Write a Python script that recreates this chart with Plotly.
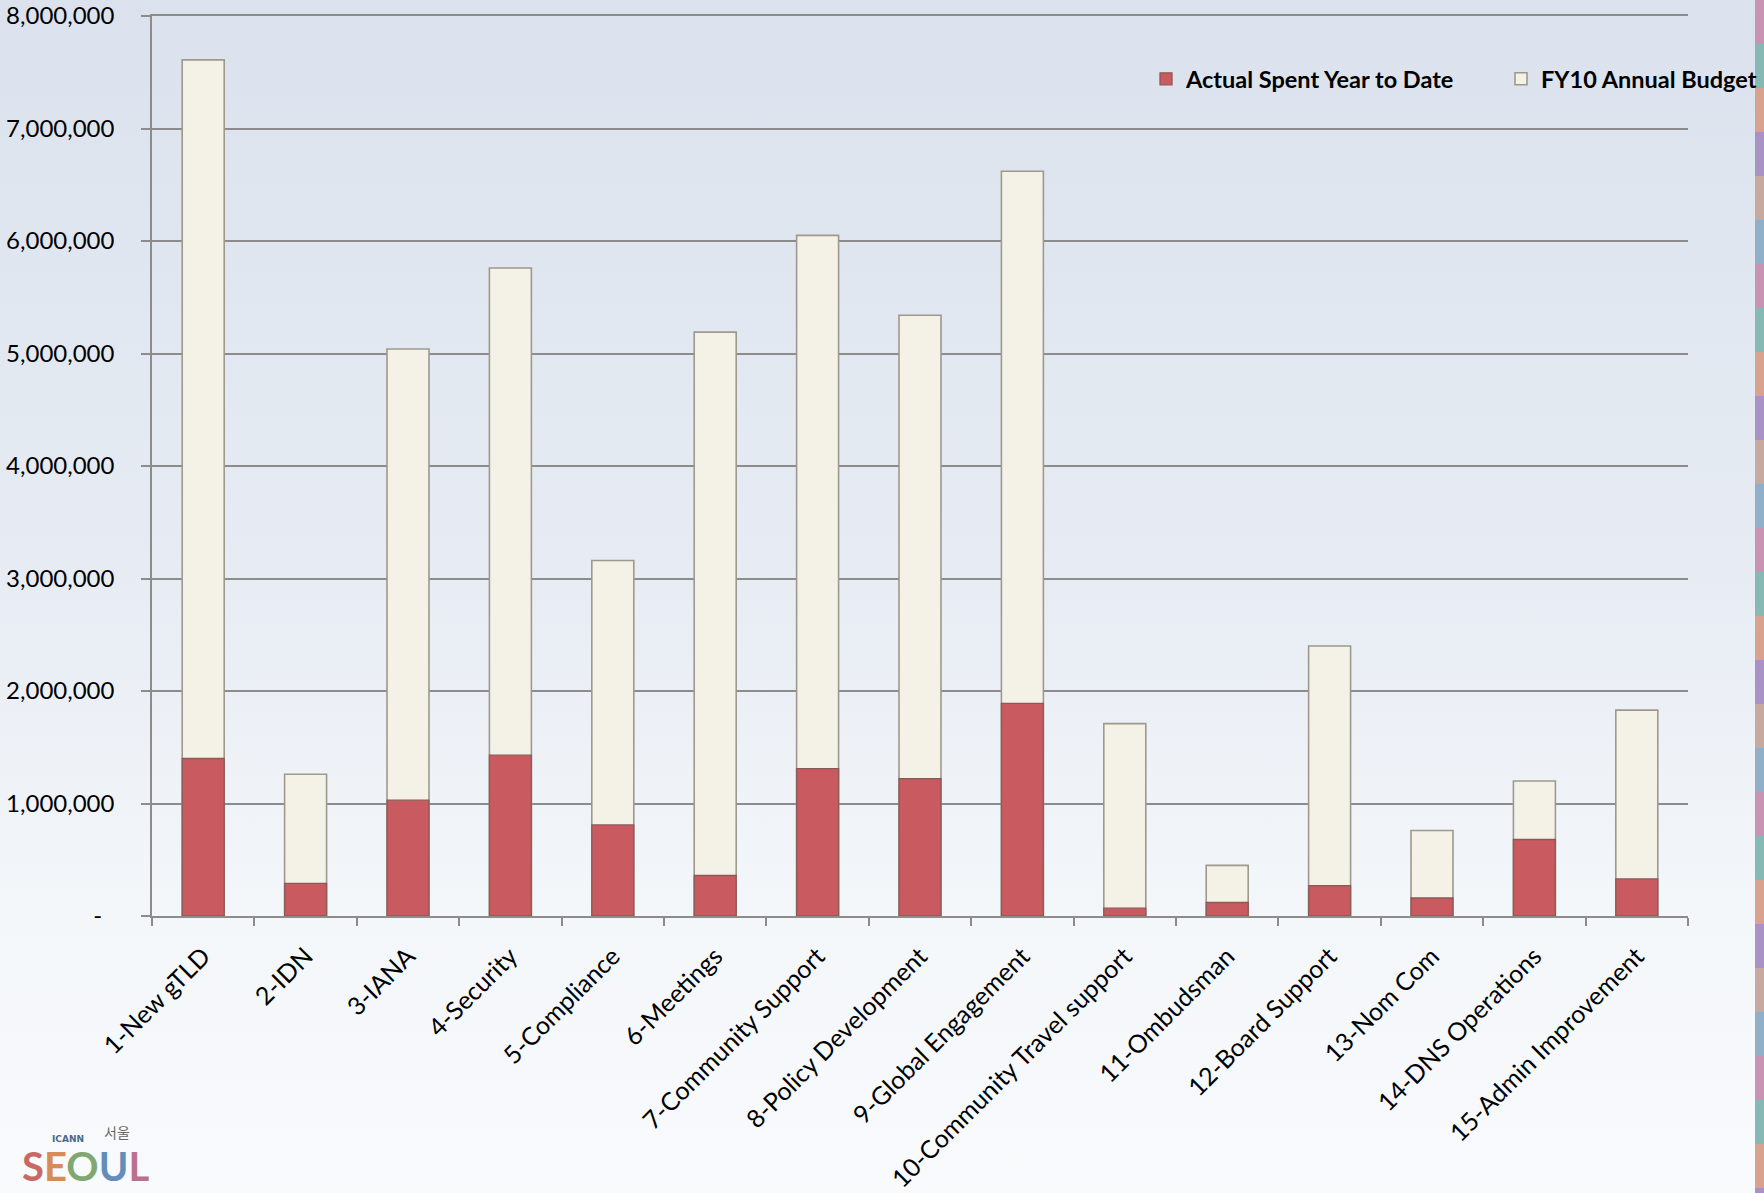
import base64
import plotly.graph_objects as go

categories = [
    "1-New gTLD", "2-IDN", "3-IANA", "4-Security", "5-Compliance", "6-Meetings",
    "7-Community Support", "8-Policy Development", "9-Global Engagement",
    "10-Community Travel support", "11-Ombudsman", "12-Board Support",
    "13-Nom Com", "14-DNS Operations", "15-Admin Improvement",
]
budget = [7610000, 1260000, 5040000, 5760000, 3160000, 5190000, 6050000, 5340000,
          6620000, 1710000, 450000, 2400000, 760000, 1200000, 1830000]
actual = [1400000, 290000, 1030000, 1430000, 810000, 360000, 1310000, 1220000,
          1890000, 70000, 120000, 270000, 160000, 680000, 330000]
y_tickvals = [0, 1000000, 2000000, 3000000, 4000000, 5000000, 6000000, 7000000, 8000000]
y_ticktext = ["-\u00a0\u00a0", "1,000,000", "2,000,000", "3,000,000", "4,000,000",
              "5,000,000", "6,000,000", "7,000,000", "8,000,000"]

W, H = 1764, 1193
ML, MR, MT, MB = 152, 76, 16, 277
PW, PH = W - ML - MR, H - MT - MB

fig = go.Figure()
fig.add_trace(go.Bar(
    x=categories, y=budget, name="FY10 Annual Budget", width=0.41,
    marker=dict(color="#f4f1e6", line=dict(color="#9d998f", width=1.6)),
    legendrank=2,
))
fig.add_trace(go.Bar(
    x=categories, y=actual, name="Actual Spent Year to Date", width=0.41,
    marker=dict(color="#c95a5f", line=dict(color="#8a5a58", width=1.3)),
    legendrank=1,
))

grad = ('<svg xmlns="http://www.w3.org/2000/svg" width="10" height="100" preserveAspectRatio="none">'
        '<defs><linearGradient id="g" x1="0" y1="0" x2="0" y2="1">'
        '<stop offset="0" stop-color="#dbe2ed"/><stop offset="0.45" stop-color="#e6ebf3"/>'
        '<stop offset="0.78" stop-color="#f4f7fa"/><stop offset="1" stop-color="#f8fafc"/>'
        '</linearGradient></defs><rect width="10" height="100" fill="url(#g)"/></svg>')
src = "data:image/svg+xml;base64," + base64.b64encode(grad.encode()).decode()


def px2x(px):
    return (px - ML) / PW


def px2y(py):
    return (H - MB - py) / PH


images = [dict(source=src, xref="paper", yref="paper", x=px2x(0), y=px2y(0),
               sizex=W / PW, sizey=H / PH, sizing="stretch", layer="below",
               xanchor="left", yanchor="top")]

# decorative colourful strip on right edge
strip_cols = ["#c993b4", "#86b9b3", "#d8a28e", "#a892c6", "#c7a9a0", "#8fb0c8"]
shapes = []
step = 44
i = 0
yy = 0
while yy < H:
    shapes.append(dict(type="rect", xref="paper", yref="paper", layer="below",
                       x0=px2x(1755), x1=px2x(1764), y0=px2y(yy), y1=px2y(min(yy + step, H)),
                       fillcolor=strip_cols[i % len(strip_cols)], line=dict(width=0)))
    i += 1
    yy += step

annotations = [
    dict(xref="paper", yref="paper", x=px2x(50), y=px2y(1146), text="<b>ICANN</b>",
         showarrow=False, font=dict(family="DejaVu Sans", size=9, color="#4a6a8a")),
    dict(xref="paper", yref="paper", x=px2x(102), y=px2y(1144), text="서울",
         showarrow=False, font=dict(family="Noto Sans CJK KR", size=14, color="#666")),
    dict(xref="paper", yref="paper", x=px2x(20), y=px2y(1192), xanchor="left", yanchor="bottom",
         text=("<b><span style='color:#c0504d'>S</span><span style='color:#d07a3a'>E</span>"
               "<span style='color:#6a9a5a'>O</span><span style='color:#4a7ab0'>U</span>"
               "<span style='color:#b05a7a'>L</span></b>"),
         showarrow=False, font=dict(family="Lato", size=40), opacity=0.85),
]

fig.update_layout(
    width=W, height=H,
    margin=dict(l=ML, r=MR, t=MT, b=MB, autoexpand=False),
    barmode="overlay",
    paper_bgcolor="#f3f6fa",
    plot_bgcolor="rgba(0,0,0,0)",
    images=images, shapes=shapes, annotations=annotations,
    font=dict(family="Lato", size=24, color="#000"),
    showlegend=True,
    legend=dict(orientation="h", x=px2x(1146), xanchor="left", y=px2y(79), yanchor="middle",
                bgcolor="rgba(0,0,0,0)", font=dict(family="Lato", size=23.5, color="#000", weight="bold"),
                itemwidth=30, entrywidth=310, entrywidthmode="pixels"),
    xaxis=dict(
        type="category", range=[-0.5, 14.5], tickangle=-45, tickson="boundaries",
        ticks="outside", ticklen=8, tickcolor="#8c8c8c", tickwidth=1.5,
        showline=True, linecolor="#8c8c8c", linewidth=1.5, showgrid=False, mirror=True,
        tickfont=dict(family="Lato", size=25, color="#000"), ticklabelstandoff=14,
        automargin=False,
    ),
    yaxis=dict(
        range=[0, 8000000], tickvals=y_tickvals, ticktext=y_ticktext,
        ticks="outside", ticklen=9, tickcolor="#8c8c8c", tickwidth=1.5,
        showline=True, linecolor="#8c8c8c", linewidth=1.5,
        showgrid=True, gridcolor="#8c8c8c", gridwidth=1.5, zeroline=False,
        tickfont=dict(family="Lato", size=24, color="#000"), ticklabelstandoff=22,
        ticklabeloverflow="allow", automargin=False,
    ),
)

fig.write_html("out.html")
